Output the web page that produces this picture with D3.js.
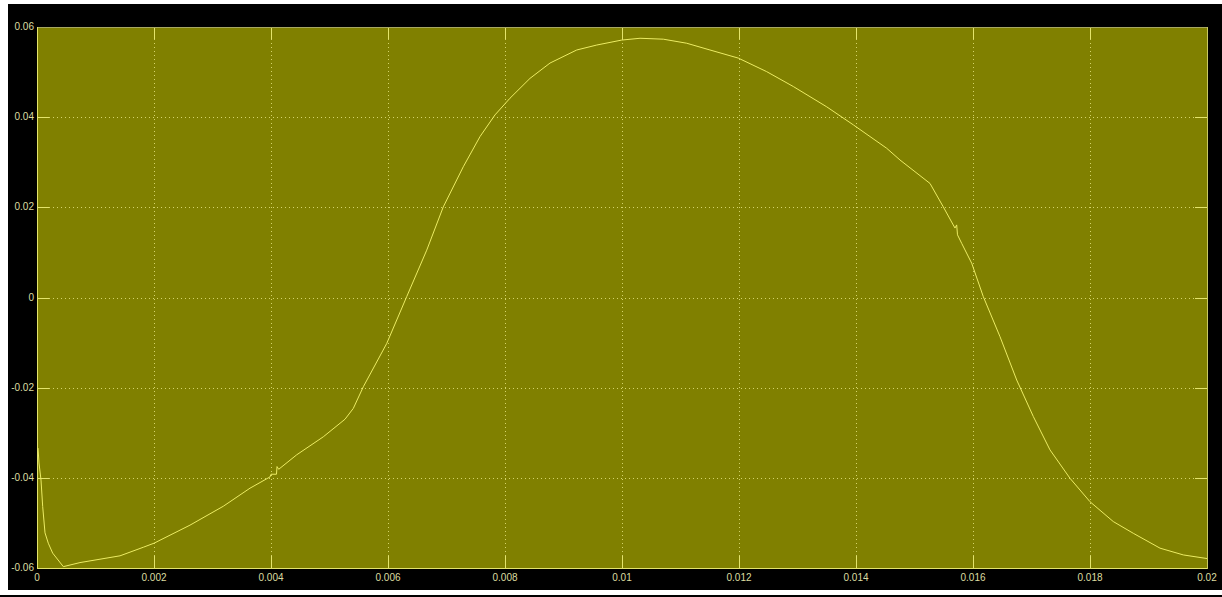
<!DOCTYPE html>
<html>
<head>
<meta charset="utf-8">
<script src="https://cdn.jsdelivr.net/npm/d3@7/dist/d3.min.js"></script>
<style>
  html, body { margin: 0; padding: 0; background: #ffffff; }
  svg { display: block; }
  text { font-family: "Liberation Sans", Arial, sans-serif; font-size: 10px; fill: #dcdca0; }
</style>
</head>
<body>
<svg id="chart" width="1222" height="597"></svg>
<script>
// Scope trace: time (s) and signal value
const timeValues = [
  0, 0.0000171, 0.0000342, 0.0000684, 0.0000974, 0.000137, 0.000193, 0.000268, 0.00045,
  0.000735, 0.001419, 0.001817, 0.002, 0.002615, 0.003185, 0.003641, 0.003983,
  0.004, 0.004094, 0.004103, 0.004132, 0.004439, 0.004894, 0.005265, 0.005407,
  0.005578, 0.005978, 0.00632, 0.006662, 0.006945, 0.007287, 0.007573, 0.007829,
  0.008085, 0.008427, 0.008769, 0.009226, 0.009568, 0.009995, 0.010308, 0.010706,
  0.011106, 0.011504, 0.011988, 0.012473, 0.012928, 0.013499, 0.013954, 0.014525,
  0.014752, 0.015265, 0.015492, 0.015692, 0.015721, 0.015735, 0.015807, 0.015978,
  0.016176, 0.016462, 0.016747, 0.017031, 0.017316, 0.017658, 0.018, 0.018398,
  0.01874, 0.019197, 0.019595, 0.02
];
const signalValues = [
  -0.0335, -0.0334, -0.0367, -0.0405, -0.0464, -0.0522, -0.0545, -0.0567, -0.0597,
  -0.0588, -0.0573, -0.0554, -0.0545, -0.0505, -0.0463, -0.0423, -0.0398,
  -0.0392, -0.0392, -0.0375, -0.0381, -0.0349, -0.0309, -0.0270, -0.0246,
  -0.0198, -0.0102, 0.0002, 0.0105, 0.0201, 0.0290, 0.0357, 0.0405,
  0.0442, 0.0486, 0.0520, 0.0549, 0.0560, 0.0571, 0.0575, 0.0573,
  0.0564, 0.0549, 0.0531, 0.0501, 0.0468, 0.0423, 0.0383, 0.0331,
  0.0305, 0.0253, 0.0201, 0.0154, 0.0161, 0.0139, 0.0120, 0.0076,
  0.0002, -0.0087, -0.0183, -0.0264, -0.0338, -0.0401, -0.0453, -0.0497,
  -0.0523, -0.0556, -0.0571, -0.0579
];
const xTicks = [0, 0.002, 0.004, 0.006, 0.008, 0.01, 0.012, 0.014, 0.016, 0.018, 0.02];
const xTickLabels = ["0", "0.002", "0.004", "0.006", "0.008", "0.01", "0.012", "0.014", "0.016", "0.018", "0.02"];
const yTicks = [-0.06, -0.04, -0.02, 0, 0.02, 0.04, 0.06];
const yTickLabels = ["-0.06", "-0.04", "-0.02", "0", "0.02", "0.04", "0.06"];

const points = timeValues.map((t, i) => ({ t, v: signalValues[i] }));

const svg = d3.select("#chart");

// figure frame
svg.append("rect").attr("x", 8).attr("y", 4).attr("width", 1214).attr("height", 586).attr("fill", "#000000");
svg.append("rect").attr("x", 0).attr("y", 595).attr("width", 1222).attr("height", 2).attr("fill", "#000000");

const plot = { left: 37, top: 27, right: 1207, bottom: 568 };
const x = d3.scaleLinear().domain([0, 0.02]).range([plot.left, plot.right]);
const y = d3.scaleLinear().domain([-0.06, 0.06]).range([plot.bottom, plot.top]);

// axes background
svg.append("rect")
  .attr("x", plot.left).attr("y", plot.top)
  .attr("width", plot.right - plot.left).attr("height", plot.bottom - plot.top)
  .attr("fill", "#808000");

const grid = svg.append("g")
  .attr("stroke", "#d4d46a").attr("stroke-width", 1)
  .attr("stroke-dasharray", "1,3").attr("shape-rendering", "crispEdges");

grid.selectAll("line.gx").data(xTicks.slice(1, -1)).join("line")
  .attr("x1", d => Math.round(x(d)) + 0.5).attr("x2", d => Math.round(x(d)) + 0.5)
  .attr("y1", plot.top).attr("y2", plot.bottom);
grid.selectAll("line.gy").data(yTicks.slice(1, -1)).join("line")
  .attr("y1", d => Math.round(y(d)) + 0.5).attr("y2", d => Math.round(y(d)) + 0.5)
  .attr("x1", plot.left).attr("x2", plot.right);

// inner tick marks on all four sides
const tickLen = 12;
const ticks = svg.append("g").attr("stroke", "#e4e46c").attr("shape-rendering", "crispEdges");
xTicks.forEach(d => {
  const px = Math.round(x(d)) + 0.5;
  ticks.append("line").attr("x1", px).attr("x2", px).attr("y1", plot.bottom).attr("y2", plot.bottom - tickLen);
  ticks.append("line").attr("x1", px).attr("x2", px).attr("y1", plot.top).attr("y2", plot.top + tickLen);
});
yTicks.forEach(d => {
  const py = Math.round(y(d)) + 0.5;
  ticks.append("line").attr("y1", py).attr("y2", py).attr("x1", plot.left).attr("x2", plot.left + tickLen);
  ticks.append("line").attr("y1", py).attr("y2", py).attr("x1", plot.right).attr("x2", plot.right - tickLen);
});

// axes box
const box = svg.append("g").attr("shape-rendering", "crispEdges").attr("stroke-width", 1);
box.append("line").attr("x1", plot.left).attr("x2", plot.right + 1).attr("y1", plot.top + 0.5).attr("y2", plot.top + 0.5).attr("stroke", "#a8a860");
box.append("line").attr("x1", plot.left).attr("x2", plot.right + 1).attr("y1", plot.bottom + 0.5).attr("y2", plot.bottom + 0.5).attr("stroke", "#e4e46c");
box.append("line").attr("x1", plot.left + 0.5).attr("x2", plot.left + 0.5).attr("y1", plot.top).attr("y2", plot.bottom + 1).attr("stroke", "#e4e46c");
box.append("line").attr("x1", plot.right + 0.5).attr("x2", plot.right + 0.5).attr("y1", plot.top).attr("y2", plot.bottom + 1).attr("stroke", "#c8c864");

// signal trace
svg.append("clipPath").attr("id", "plotClip").append("rect")
  .attr("x", plot.left).attr("y", plot.top)
  .attr("width", plot.right - plot.left).attr("height", plot.bottom - plot.top);

const line = d3.line().x(d => x(d.t)).y(d => y(d.v));
svg.append("path")
  .datum(points)
  .attr("clip-path", "url(#plotClip)")
  .attr("fill", "none")
  .attr("stroke", "#ecec64")
  .attr("stroke-width", 1)
  .attr("stroke-linejoin", "round")
  .attr("d", line);

// tick labels
svg.append("g").selectAll("text").data(xTicks).join("text")
  .attr("x", d => x(d)).attr("y", 581)
  .attr("text-anchor", "middle")
  .text((d, i) => xTickLabels[i]);

svg.append("g").selectAll("text").data(yTicks).join("text")
  .attr("x", 34).attr("y", d => y(d) + 3)
  .attr("text-anchor", "end")
  .text((d, i) => yTickLabels[i]);
</script>
</body>
</html>
